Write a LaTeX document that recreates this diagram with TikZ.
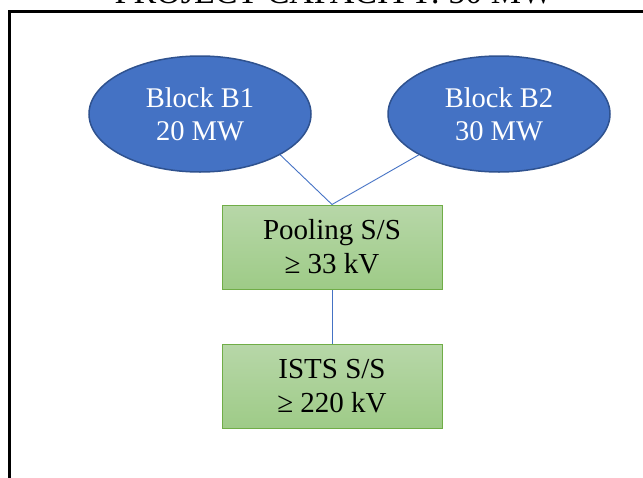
\documentclass[tikz,border=0pt]{standalone}
\usepackage{fontspec}
\setmainfont{Liberation Serif}
\usetikzlibrary{shapes.geometric}
\definecolor{blockblue}{HTML}{4472C4}
\definecolor{blockedge}{HTML}{2F528F}
\definecolor{boxtop}{HTML}{B7D7A8}
\definecolor{boxbot}{HTML}{9ECB87}
\definecolor{boxedge}{HTML}{70AD47}
\definecolor{linkblue}{HTML}{4472C4}
\tikzset{
  blockell/.style={ellipse, draw=blockedge, line width=1.5pt, fill=blockblue,
    minimum width=222pt, minimum height=116pt, inner sep=0pt, text=white,
    align=center, font=\fontsize{28.5}{33}\selectfont},
  ssbox/.style={rectangle, draw=boxedge, line width=1pt, top color=boxtop, bottom color=boxbot,
    minimum width=220pt, minimum height=84pt, inner sep=0pt, text=black,
    align=center, font=\fontsize{29}{34}\selectfont},
  link/.style={draw=linkblue, line width=0.9pt},
  frame/.style={draw=black, line width=2.5pt}
}
\begin{document}
\begin{tikzpicture}[x=1pt,y=-1pt]
\useasboundingbox (0,0) rectangle (643,477);
\draw[frame] (680,11.3) -- (9.5,11.3) -- (9.5,520);
\node[anchor=base, font=\fontsize{34}{40}\selectfont] (title) at (334,3) {PROJECT CAPACITY: 50 MW};
\node[blockell] (b1) at (200,114) {Block B1\\20 MW};
\node[blockell] (b2) at (499,114) {Block B2\\30 MW};
\node[ssbox] (pool) at (332,247) {Pooling S/S\\≥ 33 kV};
\node[ssbox] (ists) at (332,386.5) {ISTS S/S\\≥ 220 kV};
\draw[link] (b1.-27) -- (pool.north);
\draw[link] (b2.207) -- (pool.north);
\draw[link] (pool.south) -- (ists.north);
\end{tikzpicture}
\end{document}
